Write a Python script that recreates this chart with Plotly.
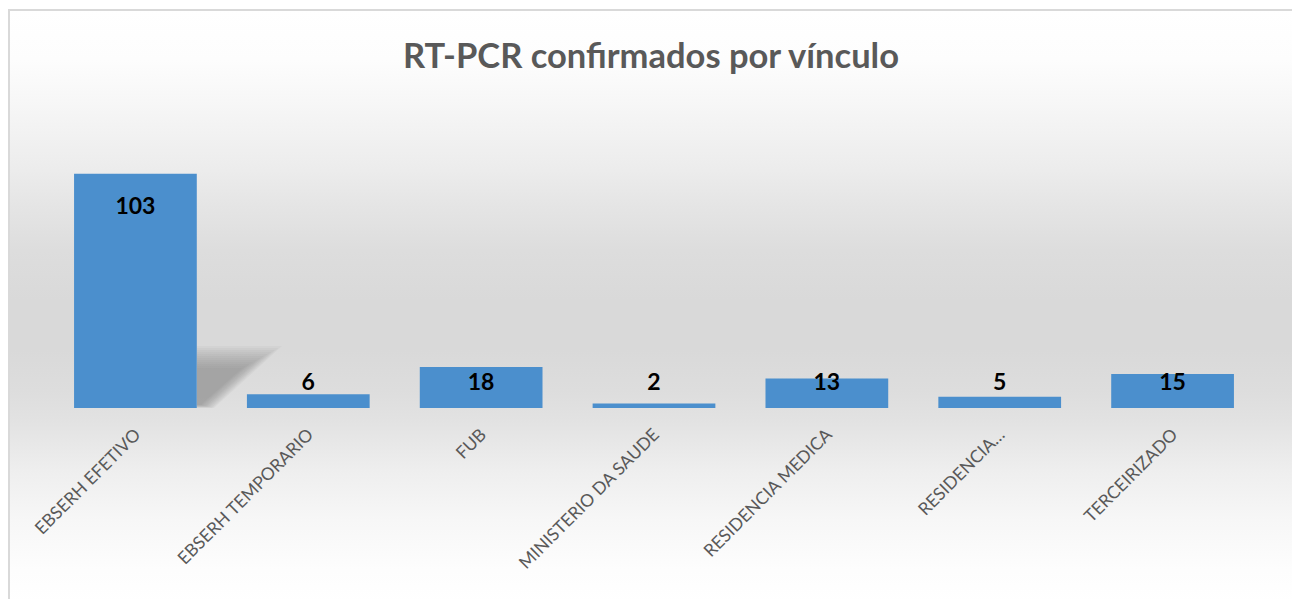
import base64
import plotly.graph_objects as go

# ---- data ----
categories = ["EBSERH EFETIVO", "EBSERH TEMPORARIO", "FUB", "MINISTERIO DA SAUDE",
              "RESIDENCIA MEDICA", "RESIDENCIA…", "TERCEIRIZADO"]
values = [103, 6, 18, 2, 13, 5, 15]
title_text = "RT-PCR confirmados por vínculo"

# ---- layout geometry (pixels) ----
W, H = 1292, 599
L, R, T, B = 49, 32.5, 135, 191
pw, ph = W - L - R, H - T - B


def px_x(x):
    return (x - L) / pw


def px_y(y):
    return (H - B - y) / ph


# background gradient (vertical) as an SVG image
stops = [(10, "#ffffff"), (60, "#fdfdfd"), (100, "#f7f7f7"), (170, "#ececec"),
         (200, "#e6e6e6"), (250, "#dddddd"), (300, "#d9d9d9"), (350, "#d9d9d9"),
         (390, "#dddddd"), (420, "#e2e2e2"), (470, "#eeeeee"), (520, "#f7f7f7"),
         (570, "#fdfdfd"), (605, "#ffffff")]
top_px, bot_px = 10, 605
stop_xml = "".join(
    f'<stop offset="{(p - top_px) / (bot_px - top_px):.4f}" stop-color="{c}"/>' for p, c in stops)
svg = ('<svg xmlns="http://www.w3.org/2000/svg" width="100" height="100" viewBox="0 0 100 100" '
       'preserveAspectRatio="none"><defs><linearGradient id="g" x1="0" y1="0" x2="0" y2="1">'
       + stop_xml + '</linearGradient></defs><rect x="0" y="0" width="100" height="100" fill="url(#g)"/></svg>')
svg_uri = "data:image/svg+xml;base64," + base64.b64encode(svg.encode()).decode()

# data labels: just inside the bar top, but never lower than a minimum level (Excel-like)
label_y = [max(v - 15, 10.5) for v in values]
label_font = dict(family="Lato", size=23, color="#000000", weight="bold")

fig = go.Figure()
fig.add_trace(go.Bar(
    x=categories, y=values,
    marker=dict(color="#4b8fcd", line=dict(width=0)),
    hoverinfo="x+y",
))
fig.add_trace(go.Scatter(
    x=categories, y=label_y, mode="text",
    text=[str(v) for v in values],
    textposition="middle center",
    textfont=label_font,
    hoverinfo="skip", cliponaxis=False,
))

# soft perspective shadow behind first bar (decorative, layered for blur)
shadow_shapes = []
n_layers = 12
for i in range(n_layers):
    g = i * 2.0
    shadow_shapes.append(dict(
        type="path", xref="paper", yref="paper", layer="below",
        path=(f"M {px_x(197)},{px_y(408 - i * 0.3)} L {px_x(197)},{px_y(346 + g)} "
              f"L {px_x(282 - g * 1.8)},{px_y(346 + g)} L {px_x(214 - g * 0.6)},{px_y(408 - i * 0.3)} Z"),
        fillcolor="rgba(120,120,120,0.06)", line=dict(width=0)))

fig.update_layout(
    width=W, height=H,
    margin=dict(l=L, r=R, t=T, b=B, pad=0),
    paper_bgcolor="#ffffff",
    plot_bgcolor="rgba(0,0,0,0)",
    bargap=0.29,
    showlegend=False,
    title=dict(text=title_text, x=651 / W, xanchor="center",
               y=1 - 56 / H, yanchor="middle", yref="container",
               font=dict(family="Lato", size=34.5, color="#595959", weight="bold")),
    xaxis=dict(showgrid=False, zeroline=False, showline=False, ticks="",
               tickangle=-45, ticklabelstandoff=12,
               tickfont=dict(family="Lato", size=17.5, color="#595959")),
    yaxis=dict(range=[0, 120], visible=False, showgrid=False, zeroline=False),
    images=[dict(source=svg_uri, xref="paper", yref="paper",
                 x=px_x(9), y=px_y(10), sizex=px_x(1300) - px_x(9),
                 sizey=px_y(10) - px_y(605), xanchor="left", yanchor="top",
                 sizing="stretch", layer="below")],
    shapes=shadow_shapes + [dict(type="rect", xref="paper", yref="paper",
                                 x0=px_x(9), x1=px_x(1310), y0=px_y(10), y1=px_y(620),
                                 line=dict(color="#d9d9d9", width=2), layer="above")],
)

fig.write_html("out.html", config={"displayModeBar": False},
               post_script="document.body.style.margin='0';document.body.style.overflow='hidden';")
